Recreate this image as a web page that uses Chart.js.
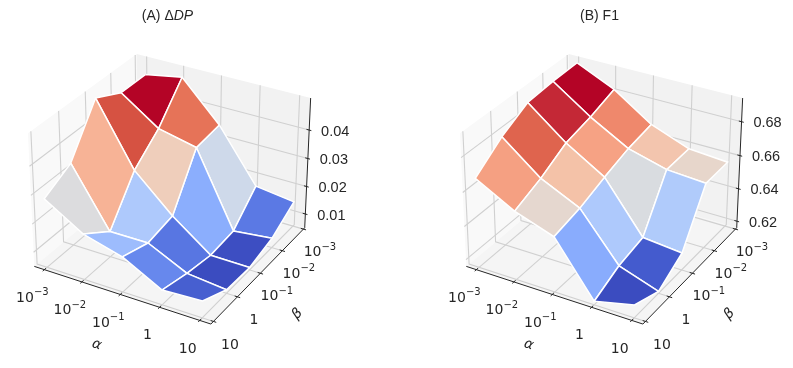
<!DOCTYPE html>
<html>
<head>
<meta charset="utf-8">
<script src="https://cdn.jsdelivr.net/npm/chart.js@4"></script>
<style>
    html, body { margin: 0; padding: 0; background: #fff; }
    canvas { position: absolute; top: 0; }
</style>
</head>
<body>
<canvas id="dp" width="396" height="368" style="left:0"></canvas>
<canvas id="f1" width="397" height="368" style="left:396px"></canvas>
<script>
// Data. Rows are alpha, columns are beta.
const alphaLabels = ['10^−3', '10^−2', '10^−1', '1', '10'];
const betaLabels = ['10^−3', '10^−2', '10^−1', '1', '10'];

const dpTicks = [0.01, 0.02, 0.03, 0.04];
const dpLimits = [0.0049, 0.0510];
const dpValues = [
    [0.0450, 0.0450, 0.0497, 0.0341, 0.0291],
    [0.0474, 0.0359, 0.0282, 0.0140, 0.0210],
    [0.0340, 0.0329, 0.0159, 0.0141, 0.0173],
    [0.0156, 0.0068, 0.0059, 0.0076, 0.0101],
    [0.0138, 0.0083, 0.0058, 0.0062, 0.0108]
];

const f1Ticks = [0.62, 0.64, 0.66, 0.68];
const f1Limits = [0.6159, 0.6937];
const f1Values = [
    [0.6906, 0.6903, 0.6889, 0.6805, 0.6687],
    [0.6804, 0.6751, 0.6714, 0.6628, 0.6564],
    [0.6653, 0.6625, 0.6577, 0.6521, 0.6486],
    [0.6568, 0.6564, 0.6284, 0.6250, 0.6180],
    [0.6551, 0.6548, 0.6262, 0.6171, 0.6235]
];

// coolwarm colormap samples, every 0.05
const coolwarm = [
    [59, 76, 192], [68, 90, 205], [81, 109, 219], [98, 130, 234], [123, 159, 249],
    [141, 176, 254], [170, 199, 253], [182, 206, 250], [197, 214, 242], [212, 219, 230],
    [221, 220, 220], [231, 214, 204], [241, 204, 184], [246, 189, 161], [247, 172, 142],
    [244, 152, 122], [238, 132, 104], [229, 112, 86], [215, 83, 66], [199, 47, 57], [180, 4, 38]
];

function colorAt(t) {
    const p = Math.min(Math.max(t, 0), 1) * (coolwarm.length - 1);
    const k = Math.min(Math.floor(p), coolwarm.length - 2);
    const c = coolwarm[k].map((v, n) => Math.round(v + (coolwarm[k + 1][n] - v) * (p - k)));
    return 'rgb(' + c.join(',') + ')';
}

// 3D view: elev 30, azim -60, box aspect 4:4:3, camera distance 10
const hx = 0.595, hz = 0.446, dist = 10;
const pxPerUnit = 1700;

function project(tx, ty, tz) {
    const qx = hx * (2 * tx - 1), qy = hx * (1 - 2 * ty), qz = hz * (2 * tz - 1);
    const u = 0.866 * qx + 0.5 * qy;
    const v = -0.25 * qx + 0.433 * qy + 0.866 * qz;
    const w = 0.433 * qx - 0.75 * qy + 0.5 * qz;
    const depth = dist - w;
    return { x: u / depth, y: v / depth, depth: depth };
}

const alphaPos = (i) => 0.06 + 0.22 * i;
const betaPos = (j) => 0.015 + 0.24 * j;

function drawMixed(ctx, parts, x, y) {
    // parts = [[text, font, dy], ...], centered on x
    let total = 0;
    parts.forEach((p) => { ctx.font = p[1]; total += ctx.measureText(p[0]).width; });
    let cx = x - total / 2;
    ctx.textAlign = 'left';
    parts.forEach((p) => {
        ctx.font = p[1];
        ctx.fillText(p[0], cx, y + p[2]);
        cx += ctx.measureText(p[0]).width;
    });
}

function tickParts(label) {
    const bits = label.split('^');
    const out = [[bits[0], '14px "DejaVu Sans"', 0]];
    if (bits[1]) out.push([bits[1], '10px "DejaVu Sans"', -5.5]);
    return out;
}

function makePanel(id, cx, values, limits, zTicks, titleParts) {
    const datasets = [];
    const zPos = (z) => (z - limits[0]) / (limits[1] - limits[0]);

    function add(points, color, width, fillColor) {
        datasets.push({
            data: points.map((p) => ({ x: p.x, y: p.y })),
            showLine: true,
            borderColor: color,
            borderWidth: width,
            backgroundColor: fillColor || 'transparent',
            fill: fillColor ? 'shape' : false,
            pointRadius: 0,
            tension: 0,
            clip: false
        });
    }

    function path(list) {
        return list.map((p) => project(p[0], p[1], p[2]));
    }

    // panes
    add(path([[0, 0, 0], [0, 1, 0], [0, 1, 1], [0, 0, 1], [0, 0, 0]]), 'transparent', 0, '#f9f9f9');
    add(path([[0, 0, 0], [1, 0, 0], [1, 0, 1], [0, 0, 1], [0, 0, 0]]), 'transparent', 0, '#f2f2f2');
    add(path([[0, 0, 0], [1, 0, 0], [1, 1, 0], [0, 1, 0], [0, 0, 0]]), 'transparent', 0, '#f5f5f5');

    // grid
    const gridColor = '#d0d0d0';
    alphaLabels.forEach((l, i) => {
        const t = alphaPos(i);
        add(path([[t, 1, 0], [t, 0, 0], [t, 0, 1]]), gridColor, 1.1);
    });
    betaLabels.forEach((l, j) => {
        const t = betaPos(j);
        add(path([[1, t, 0], [0, t, 0], [0, t, 1]]), gridColor, 1.1);
    });
    zTicks.forEach((z) => {
        const t = zPos(z);
        add(path([[0, 1, t], [0, 0, t], [1, 0, t]]), gridColor, 1.1);
    });

    // axis lines and tick marks
    const axisColor = '#262626';
    add(path([[0, 1, 0], [1, 1, 0]]), axisColor, 1);
    add(path([[1, 1, 0], [1, 0, 0]]), axisColor, 1);
    add(path([[1, 0, 0], [1, 0, 1]]), axisColor, 1);
    alphaLabels.forEach((l, i) => {
        const t = alphaPos(i);
        add(path([[t, 0.985, 0], [t, 1.015, 0]]), axisColor, 1);
    });
    betaLabels.forEach((l, j) => {
        const t = betaPos(j);
        add(path([[0.985, t, 0], [1.015, t, 0]]), axisColor, 1);
    });
    zTicks.forEach((z) => {
        const t = zPos(z);
        add(path([[0.985, 0, t], [1.012, 0, t]]), axisColor, 1);
    });

    // surface cells, far ones first
    const cells = [];
    for (let i = 0; i < values.length - 1; i++) {
        for (let j = 0; j < values[i].length - 1; j++) {
            const corners = [[i, j], [i + 1, j], [i + 1, j + 1], [i, j + 1]];
            const pts = corners.map((c) => project(alphaPos(c[0]), betaPos(c[1]), zPos(values[c[0]][c[1]])));
            const mean = corners.reduce((s, c) => s + values[c[0]][c[1]], 0) / 4;
            const depth = pts.reduce((s, p) => s + p.depth, 0) / 4;
            cells.push({ pts: pts, mean: mean, depth: depth });
        }
    }
    const means = cells.map((c) => c.mean);
    const lo = Math.min(...means), hi = Math.max(...means);
    cells.sort((a, b) => b.depth - a.depth);
    cells.forEach((c) => {
        add(c.pts.concat([c.pts[0]]), '#ffffff', 1.5, colorAt((c.mean - lo) / (hi - lo)));
    });

    // first pushed is painted first
    datasets.forEach((d, k) => { d.order = datasets.length - k; });

    const canvas = document.getElementById(id);
    const cy = 182.5;

    const textPlugin = {
        id: 'panelText',
        afterDatasetsDraw(chart) {
            const ctx = chart.ctx;
            const sx = chart.scales.x, sy = chart.scales.y;
            const toPx = (p) => ({ x: sx.getPixelForValue(p.x), y: sy.getPixelForValue(p.y) });
            ctx.save();
            ctx.fillStyle = '#262626';
            ctx.textBaseline = 'middle';

            drawMixed(ctx, titleParts, sx.getPixelForValue(0) - 4.5, 16.5);

            alphaLabels.forEach((l, i) => {
                const p = toPx(project(alphaPos(i), 1, 0));
                drawMixed(ctx, tickParts(l), p.x - 12, p.y + 28.5);
            });
            betaLabels.forEach((l, j) => {
                const p = toPx(project(1, betaPos(j), 0));
                drawMixed(ctx, tickParts(l), p.x + 16.5, p.y + 23.5);
            });
            ctx.textAlign = 'center';
            ctx.font = '14.5px "Liberation Sans"';
            zTicks.forEach((z) => {
                const p = toPx(project(1, 0, zPos(z)));
                ctx.fillText(z.toFixed(2), p.x + 26, p.y + 1.6);
            });

            ctx.font = 'italic 14px "DejaVu Sans"';
            const a = toPx(project(0.5, 1, 0));
            ctx.save();
            ctx.translate(a.x - 23.6, a.y + 50.2);
            ctx.rotate(18 * Math.PI / 180);
            ctx.fillText('α', 0, 0);
            ctx.restore();
            const b = toPx(project(1, 0.5, 0));
            ctx.save();
            ctx.translate(b.x + 37.4, b.y + 40.2);
            ctx.rotate(-45 * Math.PI / 180);
            ctx.fillText('β', 0, 0);
            ctx.restore();
            ctx.restore();
        }
    };

    new Chart(canvas, {
        type: 'scatter',
        data: { datasets: datasets },
        options: {
            responsive: false,
            animation: false,
            events: [],
            layout: { padding: 0 },
            plugins: { legend: { display: false }, tooltip: { enabled: false } },
            scales: {
                x: { type: 'linear', display: false, min: -cx / pxPerUnit, max: (canvas.width - cx) / pxPerUnit },
                y: { type: 'linear', display: false, min: -(canvas.height - cy) / pxPerUnit, max: cy / pxPerUnit }
            }
        },
        plugins: [textPlugin]
    });
}

const titleFont = '14px "Liberation Sans"';
const titleItalic = 'italic 14px "Liberation Sans"';

makePanel('dp', 172, dpValues, dpLimits, dpTicks, [['(A) Δ', titleFont, 0], ['DP', titleItalic, 0]]);
makePanel('f1', 208, f1Values, f1Limits, f1Ticks, [['(B) F1', titleFont, 0]]);
</script>
</body>
</html>
